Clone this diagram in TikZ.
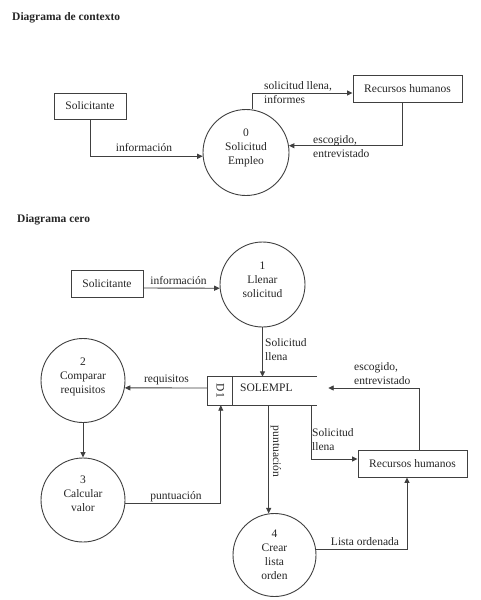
\documentclass[tikz,border=0pt]{standalone}
\usepackage{fontspec}
\setmainfont{Liberation Serif}
\usetikzlibrary{arrows.meta,calc}
\begin{document}
\begin{tikzpicture}[x=1pt,y=-1pt,
  every node/.style={font=\fontsize{11.5}{14}\selectfont, text=black!85},
  ln/.style={draw=black!75, line width=0.9pt},
  arr/.style={ln, -{Triangle[length=5.5pt,width=5pt]}},
  ent/.style={draw=black!75, line width=0.9pt, rectangle, inner sep=0pt},
  proc/.style={draw=black!75, line width=0.9pt, circle, inner sep=0pt},
  lab/.style={inner sep=0pt, align=left},
  ttl/.style={inner sep=0pt, anchor=west, font=\bfseries\fontsize{11.5}{14}\selectfont}
]
\useasboundingbox[fill=white] (0,0) rectangle (480,600);

% ---------- Diagrama de contexto ----------
\node[ttl] (title1) at (12,18) {Diagrama de contexto};
\node[ent, minimum width=72pt, minimum height=26pt] (sol) at (90,106) {Solicitante};
\node[ent, minimum width=109pt, minimum height=27pt] (rh) at (407.5,88.5) {Recursos humanos};
\node[proc, minimum size=86pt] (p0) at (246,152.5) {};
\node[lab, align=center, yshift=5pt] (p0t) at (p0) {0\\Solicitud\\Empleo};

\draw[arr] (sol.south) |- (p0.185);
\node[lab] (l1) at (144,148) {información};
\draw[arr] (p0.82) |- ($(rh.west)+(0,4.5)$);
\node[lab, anchor=west] (l2) at (264,92.5) {solicitud llena,\\informes};
\draw[arr] ($(rh.south)+(-5.5,0)$) |- (p0.9);
\node[lab, anchor=west] (l3) at (313,147) {escogido,\\entrevistado};

% ---------- Diagrama cero ----------
\node[ttl] (title2) at (17,220) {Diagrama cero};
\node[ent, minimum width=72pt, minimum height=27pt] (sol2) at (107,283.5) {Solicitante};
\node[proc, minimum size=85pt] (p1) at (262.5,284.5) {};
\node[lab, align=center, yshift=5pt] (p1t) at (p1) {1\\Llenar\\solicitud};
\draw[arr] ($(sol2.east)+(0,4.5)$) -- (p1.185);
\node[lab] (l4) at (178.5,281) {información};

% data store D1
\node[minimum width=109pt, minimum height=28pt, inner sep=0pt] (d1) at (262.5,391) {};
\draw[ln] (d1.north east) -- (d1.north west) -- (d1.south west) -- (d1.south east);
\draw[ln] ($(d1.north west)+(25,0)$) -- ($(d1.south west)+(25,0)$);
\node[lab, rotate=-90] (d1id) at (220.5,391) {D1};
\node[lab, anchor=west] (d1name) at (240,388) {SOLEMPL};

\draw[arr] (p1.south) -- (p1.south |- d1.north);
\node[lab, anchor=west] (l5) at (265,350) {Solicitud\\llena};

\node[proc, minimum size=84pt] (p2) at (83,380.5) {};
\node[lab, align=center, yshift=4pt] (p2t) at (p2) {2\\Comparar\\requisitos};
\draw[arr] ($(d1.west)+(0,-3)$) -- (p2.-10);
\node[lab] (l6) at (166.5,380) {requisitos};

\node[proc, minimum size=84pt] (p3) at (83,500) {};
\node[lab, align=center, yshift=6pt] (p3t) at (p3) {3\\Calcular\\valor};
\draw[arr] (p2.south) -- (p3.north);
\draw[arr] (p3.-5) -| ($(d1.south west)+(13,0)$);
\node[lab] (l7) at (176,497) {puntuación};

\node[proc, minimum size=83pt] (p4) at (274.5,555) {};
\node[lab, align=center] (p4t) at (p4) {4\\Crear\\lista\\orden};
\draw[arr] (p4.98 |- d1.south) -- (p4.98);
\node[lab, rotate=-90] (l8) at (276,451.5) {puntuación};

\node[ent, minimum width=109pt, minimum height=27pt] (rh2) at (412.5,463.5) {Recursos humanos};
\draw[arr] ($(d1.south east)+(-6,0)$) |- ($(rh2.west)+(0,-4.5)$);
\node[lab, anchor=west] (l9) at (312,440) {Solicitud\\llena};
\draw[arr] ($(rh2.north)+(6.5,0)$) |- ($(d1.east)+(11,-3)$);
\node[lab, anchor=west] (l10) at (354,374) {escogido,\\entrevistado};
\draw[arr] (p4.8) -| ($(rh2.south)+(-5.5,0)$);
\node[lab] (l11) at (365,542) {Lista ordenada};
\end{tikzpicture}
\end{document}
